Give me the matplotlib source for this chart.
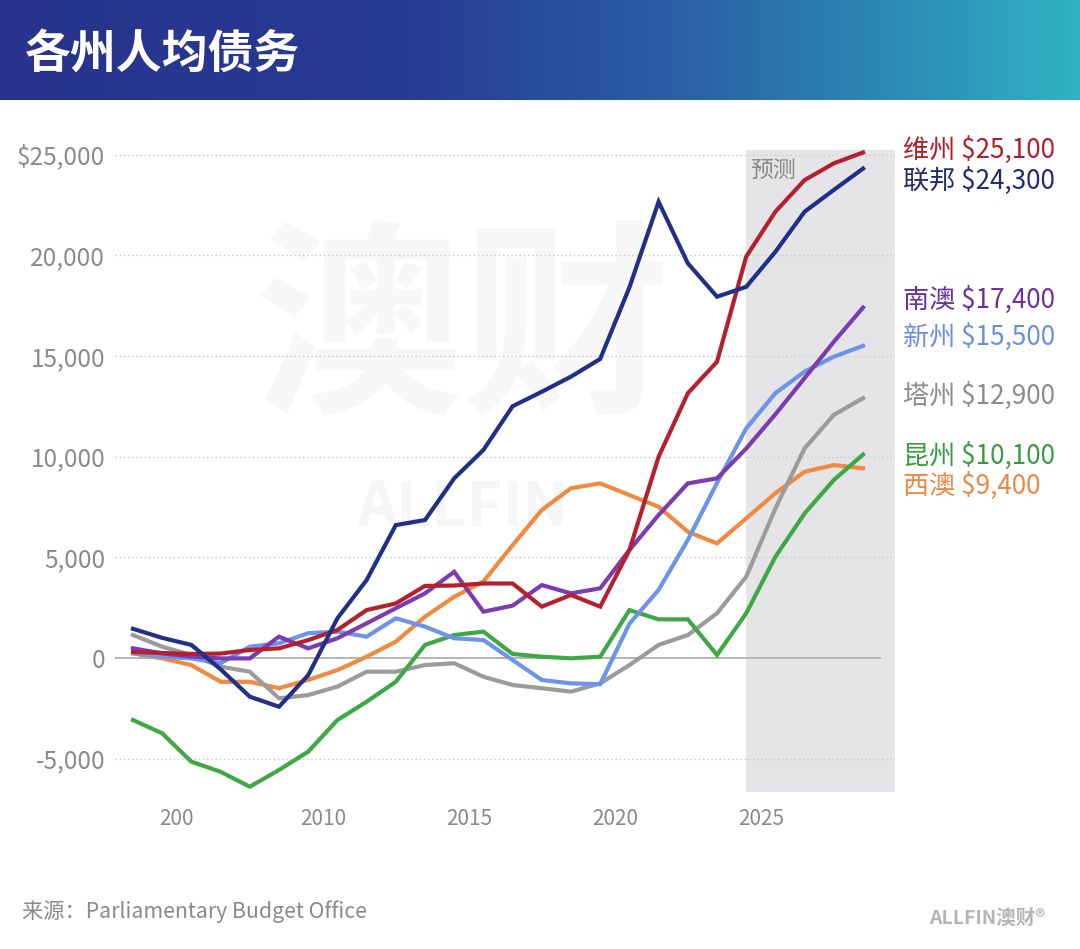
import numpy as np
import matplotlib
matplotlib.use("Agg")
import matplotlib.pyplot as plt
from matplotlib.colors import LinearSegmentedColormap

plt.rcParams['font.family'] = ['Noto Sans CJK SC', 'DejaVu Sans']

# ---------------------------------------------------------------------------
# Data: per-capita debt ($), fiscal years 2003-04 ... 2028-29
# ---------------------------------------------------------------------------
fiscal_years = list(range(2003, 2029))

vic = [300, 250, 200, 220, 400, 480, 890, 1390, 2380, 2710, 3580, 3600, 3700,
       3700, 2550, 3130, 2550, 5360, 9990, 13140, 14710, 19930, 22160, 23730,
       24560, 25100]
fed = [1450, 1000, 650, -560, -1920, -2420, -850, 1970, 3870, 6600, 6850, 8920,
       10330, 12500, 13220, 13970, 14850, 18400, 22650, 19600, 17940, 18430,
       20170, 22160, 23240, 24300]
sa = [480, 230, 70, -20, -20, 1060, 480, 980, 1720, 2470, 3210, 4280, 2300, 2600,
      3620, 3210, 3460, 5360, 7100, 8670, 8920, 10400, 12100, 13900, 15700, 17400]
nsw = [230, 70, -20, -260, 560, 730, 1230, 1310, 1060, 1970, 1560, 980, 890, -100,
       -1090, -1260, -1300, 1700, 3380, 5860, 8690, 11400, 13150, 14220, 14960,
       15500]
tas = [1140, 560, 150, -430, -680, -2000, -1840, -1420, -680, -680, -350, -260,
       -930, -1340, -1500, -1670, -1260, -350, 650, 1140, 2220, 4040, 7430, 10410,
       12070, 12900]
qld = [-3080, -3740, -5150, -5650, -6390, -5560, -4650, -3080, -2170, -1180, 650,
       1140, 1310, 200, 65, -15, 65, 2380, 1920, 1920, 150, 2220, 5030, 7180, 8840,
       10100]
wa = [230, -20, -350, -1180, -1180, -1500, -1090, -600, 65, 810, 2050, 3040, 3800,
      5600, 7350, 8430, 8670, 8090, 7510, 6270, 5690, 6930, 8180, 9250, 9580, 9420]

series_names = ["西澳", "塔州", "昆州", "新州", "南澳", "维州", "联邦"]
series_vals = [wa, tas, qld, nsw, sa, vic, fed]
end_labels = ["$9,400", "$12,900", "$10,100", "$15,500", "$17,400", "$25,100", "$24,300"]

y_ticks = [-5000, 0, 5000, 10000, 15000, 20000, 25000]
y_tick_labels = ["-5,000", "0", "5,000", "10,000", "15,000", "20,000", "$25,000"]
x_ticks = [2005, 2010, 2015, 2020, 2025]
x_tick_labels = ["200", "2010", "2015", "2020", "2025"]

forecast_start = 2024.5

# styles
line_colors = ["#f08a40", "#9b9b9b", "#3fa845", "#6d94e8", "#7c3bb0", "#b5202e", "#222f86"]
label_colors = ["#ec8744", "#8c8c8c", "#3a9a40", "#6a8fe0", "#6a2fa0", "#b01e28", "#1f2a70"]
label_y = [8550, 13000, 10050, 15950, 17800, 25250, 23700]

W, H = 1080, 949
fig = plt.figure(figsize=(W / 100, H / 100), dpi=100)
fig.patch.set_facecolor("white")

# ---- title banner ----
ax_b = fig.add_axes([0, 1 - 100 / H, 1, 100 / H])
cmap = LinearSegmentedColormap.from_list(
    "banner", [(0.0, "#27338c"), (0.38, "#283b93"), (0.62, "#2a5ea3"),
               (0.85, "#2d8fb6"), (1.0, "#30b3c2")])
ax_b.imshow(np.linspace(0, 1, 512)[None, :], aspect="auto", cmap=cmap,
            extent=[0, 1, 0, 1])
ax_b.set_xlim(0, 1)
ax_b.set_ylim(0, 1)
ax_b.axis("off")
ax_b.text(25 / W, 0.44, "各州人均债务", color="white", fontsize=33,
          fontweight="black", va="center", ha="left")

# ---- main plot ----
left, right, top, bottom = 115, 895, 140, 800
ax = fig.add_axes([left / W, 1 - bottom / H, (right - left) / W, (bottom - top) / H])
x = np.array(fiscal_years) + 0.5
x0 = 2003.5 - 18 / 29.2
x1 = 2003.5 + 762 / 29.2
ax.set_xlim(x0, x1)
ax.set_ylim(-7050, 25720)

# forecast shading
ax.fill_between([forecast_start, x1], -6650, 25200, color="#e5e5e8", lw=0, zorder=0)
ax.text(forecast_start + 0.15, 24200, "预测", color="#8a8a8a", fontsize=16.5,
        va="center", ha="left", zorder=1)

# watermark
ax.text(2014.8, 16000, "澳财", color="#f7f7f7", fontsize=150, fontweight="black",
        ha="center", va="center", zorder=0.5)
ax.text(2014.8, 7400, "ALLFIN", color="#f6f6f6", fontsize=44, fontweight="bold",
        ha="center", va="center", zorder=0.5)

# grid
for yt in y_ticks:
    if yt == 0:
        ax.axhline(0, color="#b0b0b0", lw=1.3, zorder=1, xmax=(880 - left) / (right - left))
    else:
        ax.axhline(yt, color="#c8c8c8", lw=1.0, ls=(0, (1, 2)), zorder=1)

for vals, c in zip(series_vals, line_colors):
    ax.plot(x, vals, color=c, lw=3.0, solid_joinstyle="miter", zorder=3)

for name, lab, c, ly in zip(series_names, end_labels, label_colors, label_y):
    ax.text(x1 + 0.27, ly, f"{name} {lab}", color=c, fontsize=18.8,
            va="center", ha="left", clip_on=False)

ax.set_yticks(y_ticks)
ax.set_yticklabels(y_tick_labels)
ax.set_xticks(x_ticks)
ax.set_xticklabels(x_tick_labels)
ax.tick_params(axis="both", length=0, labelcolor="#8a8a8a")
ax.tick_params(axis="y", pad=7, labelsize=17.5)
ax.tick_params(axis="x", pad=6, labelsize=15)
for s in ax.spines.values():
    s.set_visible(False)
ax.set_facecolor("none")

# footer
fig.text(22 / W, 1 - 912 / H, "来源：Parliamentary Budget Office", color="#8a8a8a",
         fontsize=15.3, va="center", ha="left", fontweight="light")
fig.text(1045 / W, 1 - 918 / H, "ALLFIN澳财®", color="#b5b5b5", fontsize=14,
         fontweight="bold", va="center", ha="right")

fig.savefig("out.png", dpi=100)
